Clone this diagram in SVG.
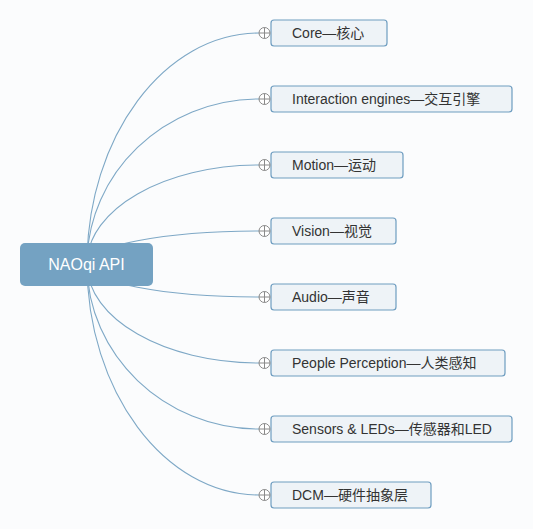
<svg xmlns="http://www.w3.org/2000/svg" width="533" height="529" viewBox="0 0 533 529">
<defs>
<style>
.bg{fill:#fbfcfd}
.conn path{fill:none;stroke:#7ea8c6;stroke-width:1.1}
.root rect{fill:#74a2c2}
.root text{fill:#ffffff;font-family:"Liberation Sans","Noto Sans CJK SC",sans-serif;font-size:16px;text-anchor:middle}
.node rect{fill:#eef3f7;stroke:#6e9dc0;stroke-width:1.2}
.node text{fill:#333333;font-family:"Liberation Sans","Noto Sans CJK SC",sans-serif;font-size:14px}
</style>
<g id="toggle">
<circle cx="0" cy="0" r="5.5" fill="#ffffff" stroke="#8a8a8a" stroke-width="1"/>
<path d="M-5.5 0H5.5M0 -5.5V5.5" fill="none" stroke="#8a8a8a" stroke-width="1"/>
</g>
</defs>
<rect class="bg" x="0" y="0" width="533" height="529"/>
<g id="connectors" class="conn">
<path d="M87 264C87 136.95 164.4 33 259 33"/>
<path d="M87 264C87 173.25 164.4 99 259 99"/>
<path d="M87 264C87 209.1 164.4 165 259 165"/>
<path d="M87 264C87 245.85 164.4 231 259 231"/>
<path d="M87 264C87 282.15 164.4 297 259 297"/>
<path d="M87 264C87 318.9 164.4 363 259 363"/>
<path d="M87 264C87 354.75 164.4 429 259 429"/>
<path d="M87 264C87 391.05 164.4 495 259 495"/>
</g>
<g id="root" class="root">
<rect x="20" y="243" width="133" height="43" rx="5"/>
<text x="86.5" y="269.5">NAOqi API</text>
</g>
<g id="n1" class="node"><rect x="271" y="20" width="116" height="26" rx="3"/><text x="292" y="37.5">Core—核心</text><use href="#toggle" x="264.5" y="33"/></g>
<g id="n2" class="node"><rect x="271" y="86" width="241" height="26" rx="3"/><text x="292" y="103.5">Interaction engines—交互引擎</text><use href="#toggle" x="264.5" y="99"/></g>
<g id="n3" class="node"><rect x="271" y="152" width="132" height="26" rx="3"/><text x="292" y="169.5">Motion—运动</text><use href="#toggle" x="264.5" y="165"/></g>
<g id="n4" class="node"><rect x="271" y="218" width="125" height="26" rx="3"/><text x="292" y="235.5">Vision—视觉</text><use href="#toggle" x="264.5" y="231"/></g>
<g id="n5" class="node"><rect x="271" y="284" width="125" height="26" rx="3"/><text x="292" y="301.5">Audio—声音</text><use href="#toggle" x="264.5" y="297"/></g>
<g id="n6" class="node"><rect x="271" y="350" width="234" height="26" rx="3"/><text x="292" y="367.5">People Perception—人类感知</text><use href="#toggle" x="264.5" y="363"/></g>
<g id="n7" class="node"><rect x="271" y="416" width="241" height="26" rx="3"/><text x="292" y="433.5">Sensors &amp; LEDs—传感器和LED</text><use href="#toggle" x="264.5" y="429"/></g>
<g id="n8" class="node"><rect x="271" y="482" width="160" height="26" rx="3"/><text x="292" y="499.5">DCM—硬件抽象层</text><use href="#toggle" x="264.5" y="495"/></g>
</svg>
